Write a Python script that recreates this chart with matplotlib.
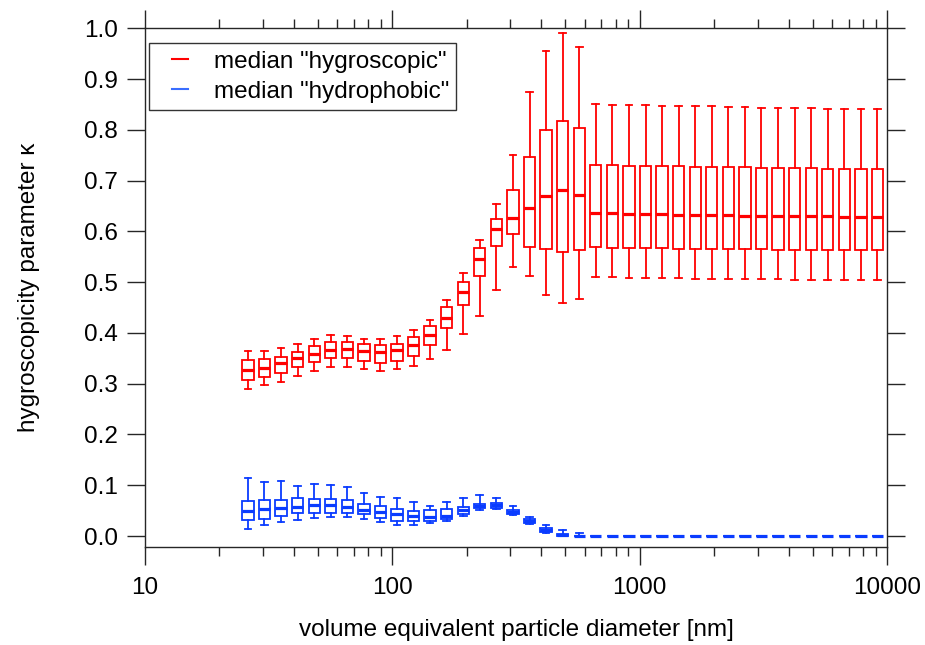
import matplotlib
matplotlib.use("Agg")
import matplotlib.pyplot as plt
from matplotlib.patches import Rectangle
from matplotlib.lines import Line2D
from matplotlib.legend_handler import HandlerBase

# ---------------- data ----------------
diameters = [26.06, 30.41, 35.48, 41.39, 48.30, 56.35, 65.75, 76.72, 89.51, 104.4,
             121.8, 142.2, 165.9, 193.5, 225.8, 263.5, 307.4, 358.7, 418.5, 488.3,
             569.7, 664.8, 775.6, 905.0, 1056, 1232, 1437, 1677, 1957, 2283,
             2664, 3108, 3627, 4231, 4937, 5760, 6721, 7842, 9150]

# hygroscopic mode: whisker low, q1, median, q3, whisker high
hyg_wlo = [0.289, 0.297, 0.303, 0.316, 0.325, 0.332, 0.333, 0.329, 0.325, 0.328,
           0.335, 0.349, 0.367, 0.398, 0.434, 0.485, 0.530, 0.512, 0.475, 0.458,
           0.466, 0.510, 0.510, 0.509, 0.509, 0.508, 0.508, 0.507, 0.507, 0.507,
           0.506, 0.506, 0.506, 0.505, 0.505, 0.505, 0.505, 0.504, 0.504]
hyg_q1 = [0.308, 0.313, 0.322, 0.333, 0.343, 0.351, 0.351, 0.345, 0.341, 0.344,
          0.355, 0.376, 0.409, 0.456, 0.512, 0.571, 0.594, 0.569, 0.566, 0.560,
          0.563, 0.569, 0.568, 0.568, 0.567, 0.567, 0.566, 0.566, 0.566, 0.565,
          0.565, 0.565, 0.564, 0.564, 0.564, 0.564, 0.563, 0.563, 0.563]
hyg_med = [0.327, 0.331, 0.340, 0.351, 0.359, 0.366, 0.368, 0.365, 0.363, 0.367,
           0.376, 0.396, 0.429, 0.480, 0.545, 0.604, 0.627, 0.646, 0.670, 0.681,
           0.672, 0.637, 0.636, 0.635, 0.634, 0.634, 0.633, 0.633, 0.632, 0.632,
           0.631, 0.631, 0.631, 0.630, 0.630, 0.630, 0.629, 0.629, 0.628]
hyg_q3 = [0.347, 0.348, 0.352, 0.362, 0.375, 0.382, 0.383, 0.378, 0.376, 0.379,
          0.392, 0.413, 0.451, 0.501, 0.567, 0.624, 0.682, 0.746, 0.800, 0.817,
          0.804, 0.731, 0.730, 0.729, 0.729, 0.728, 0.728, 0.727, 0.727, 0.726,
          0.726, 0.725, 0.725, 0.724, 0.724, 0.723, 0.723, 0.723, 0.722]
hyg_whi = [0.365, 0.365, 0.371, 0.378, 0.389, 0.395, 0.393, 0.388, 0.389, 0.393,
           0.406, 0.425, 0.465, 0.519, 0.583, 0.653, 0.751, 0.874, 0.955, 0.990,
           0.964, 0.850, 0.849, 0.848, 0.848, 0.847, 0.847, 0.846, 0.846, 0.845,
           0.845, 0.844, 0.844, 0.843, 0.843, 0.842, 0.842, 0.841, 0.841]

# hydrophobic mode
hyd_wlo = [0.013, 0.022, 0.028, 0.031, 0.035, 0.037, 0.037, 0.034, 0.027, 0.022,
           0.022, 0.026, 0.030, 0.039, 0.051, 0.053, 0.041, 0.024, 0.006, 0.000,
           0.000] + [0.0] * 18
hyd_q1 = [0.031, 0.034, 0.039, 0.046, 0.045, 0.045, 0.046, 0.043, 0.035, 0.030,
          0.030, 0.030, 0.034, 0.044, 0.055, 0.056, 0.043, 0.026, 0.008, 0.000,
          0.000] + [0.0] * 18
hyd_med = [0.049, 0.053, 0.056, 0.058, 0.062, 0.061, 0.058, 0.052, 0.048, 0.043,
           0.039, 0.038, 0.040, 0.051, 0.060, 0.061, 0.048, 0.029, 0.012, 0.002,
           0.000] + [0.0] * 18
hyd_q3 = [0.069, 0.070, 0.071, 0.075, 0.073, 0.073, 0.070, 0.064, 0.059, 0.053,
          0.050, 0.051, 0.053, 0.057, 0.064, 0.065, 0.051, 0.033, 0.015, 0.004,
          0.001] + [0.0] * 18
hyd_whi = [0.114, 0.106, 0.108, 0.099, 0.102, 0.101, 0.097, 0.085, 0.077, 0.075,
           0.067, 0.060, 0.067, 0.074, 0.080, 0.075, 0.060, 0.038, 0.022, 0.011,
           0.005] + [0.0] * 18

legend_labels = ['median "hygroscopic"', 'median "hydrophobic"']
x_ticks = [10, 100, 1000, 10000]
x_ticklabels = ["10", "100", "1000", "10000"]
y_ticks = [0.0, 0.1, 0.2, 0.3, 0.4, 0.5, 0.6, 0.7, 0.8, 0.9, 1.0]

# ---------------- style ----------------
RED = "#ff0000"
BLUE = "#0a3cff"
AXC = "#262626"
FS = 17.5
plt.rcParams["font.family"] = ["Liberation Sans", "DejaVu Sans"]

fig = plt.figure(figsize=(9.25, 6.45), dpi=100)
ax = fig.add_axes([145 / 925, 1 - 546.7 / 645, (887 - 145) / 925, (546.7 - 28.3) / 645])
ax.set_xscale("log")
ax.set_xlim(10, 10000)
ax.set_ylim(-0.021, 1.0)

BOXW = 0.0457   # box width in decades
CAPW = 0.027    # cap width in decades
LW = 1.3


def draw_boxes(wlo, q1, med, q3, whi, color):
    for d, a, b, m, c, e in zip(diameters, wlo, q1, med, q3, whi):
        left = d * 10 ** (-BOXW / 2)
        right = d * 10 ** (BOXW / 2)
        cl = d * 10 ** (-CAPW / 2)
        cr = d * 10 ** (CAPW / 2)
        ax.add_patch(Rectangle((left, b), right - left, c - b, fill=False,
                               ec=color, lw=LW, zorder=3))
        ax.plot([left, right], [m, m], color=color, lw=2.3, solid_capstyle="butt", zorder=4)
        ax.plot([d, d], [c, e], color=color, lw=LW, zorder=3)
        ax.plot([d, d], [a, b], color=color, lw=LW, zorder=3)
        ax.plot([cl, cr], [e, e], color=color, lw=LW, zorder=3)
        ax.plot([cl, cr], [a, a], color=color, lw=LW, zorder=3)


draw_boxes(hyg_wlo, hyg_q1, hyg_med, hyg_q3, hyg_whi, RED)
draw_boxes(hyd_wlo, hyd_q1, hyd_med, hyd_q3, hyd_whi, BLUE)

# axes styling
for sp in ax.spines.values():
    sp.set_color(AXC)
    sp.set_linewidth(1.0)
ax.set_xticks(x_ticks)
ax.set_xticklabels(x_ticklabels)
ax.set_yticks(y_ticks)
ax.set_yticklabels([f"{v:.1f}" for v in y_ticks])
ax.tick_params(which="both", direction="out", top=True, right=True, color=AXC,
               width=1.0, labelsize=FS, labelcolor="black")
ax.tick_params(which="major", length=13)
ax.tick_params(which="minor", length=6.7)
ax.tick_params(axis="x", which="major", pad=9)
ax.tick_params(axis="y", which="major", pad=6.5)
ax.yaxis.set_minor_locator(matplotlib.ticker.NullLocator())
ax.xaxis.set_minor_formatter(matplotlib.ticker.NullFormatter())

fig.text(516 / 925, 1 - 630 / 645, "volume equivalent particle diameter [nm]",
         ha="center", va="center", fontsize=FS)
fig.text(29 / 925, 1 - 287 / 645, "hygroscopicity parameter κ", rotation=90,
         ha="center", va="center", fontsize=FS)


class ShortLine(HandlerBase):
    def create_artists(self, legend, orig_handle, xdescent, ydescent, width,
                       height, fontsize, trans):
        y = height / 2 - ydescent
        ln = Line2D([-xdescent + width * 0.5, -xdescent + width], [y, y],
                    color=orig_handle.get_color(), lw=1.5)
        ln.set_transform(trans)
        return [ln]


handles = [Line2D([], [], color=RED), Line2D([], [], color="#3a6dff")]
leg = ax.legend(handles, legend_labels, loc="upper left",
                bbox_to_anchor=(4 / 742, (546.7 - 43) / 518.4), borderaxespad=0,
                fontsize=FS, frameon=True, fancybox=False, handlelength=1.3,
                handletextpad=1.05, borderpad=0.31, labelspacing=0.33,
                handler_map={Line2D: ShortLine()})
leg.get_frame().set_edgecolor("black")
leg.get_frame().set_linewidth(1.0)

fig.savefig("out.png", dpi=100)
